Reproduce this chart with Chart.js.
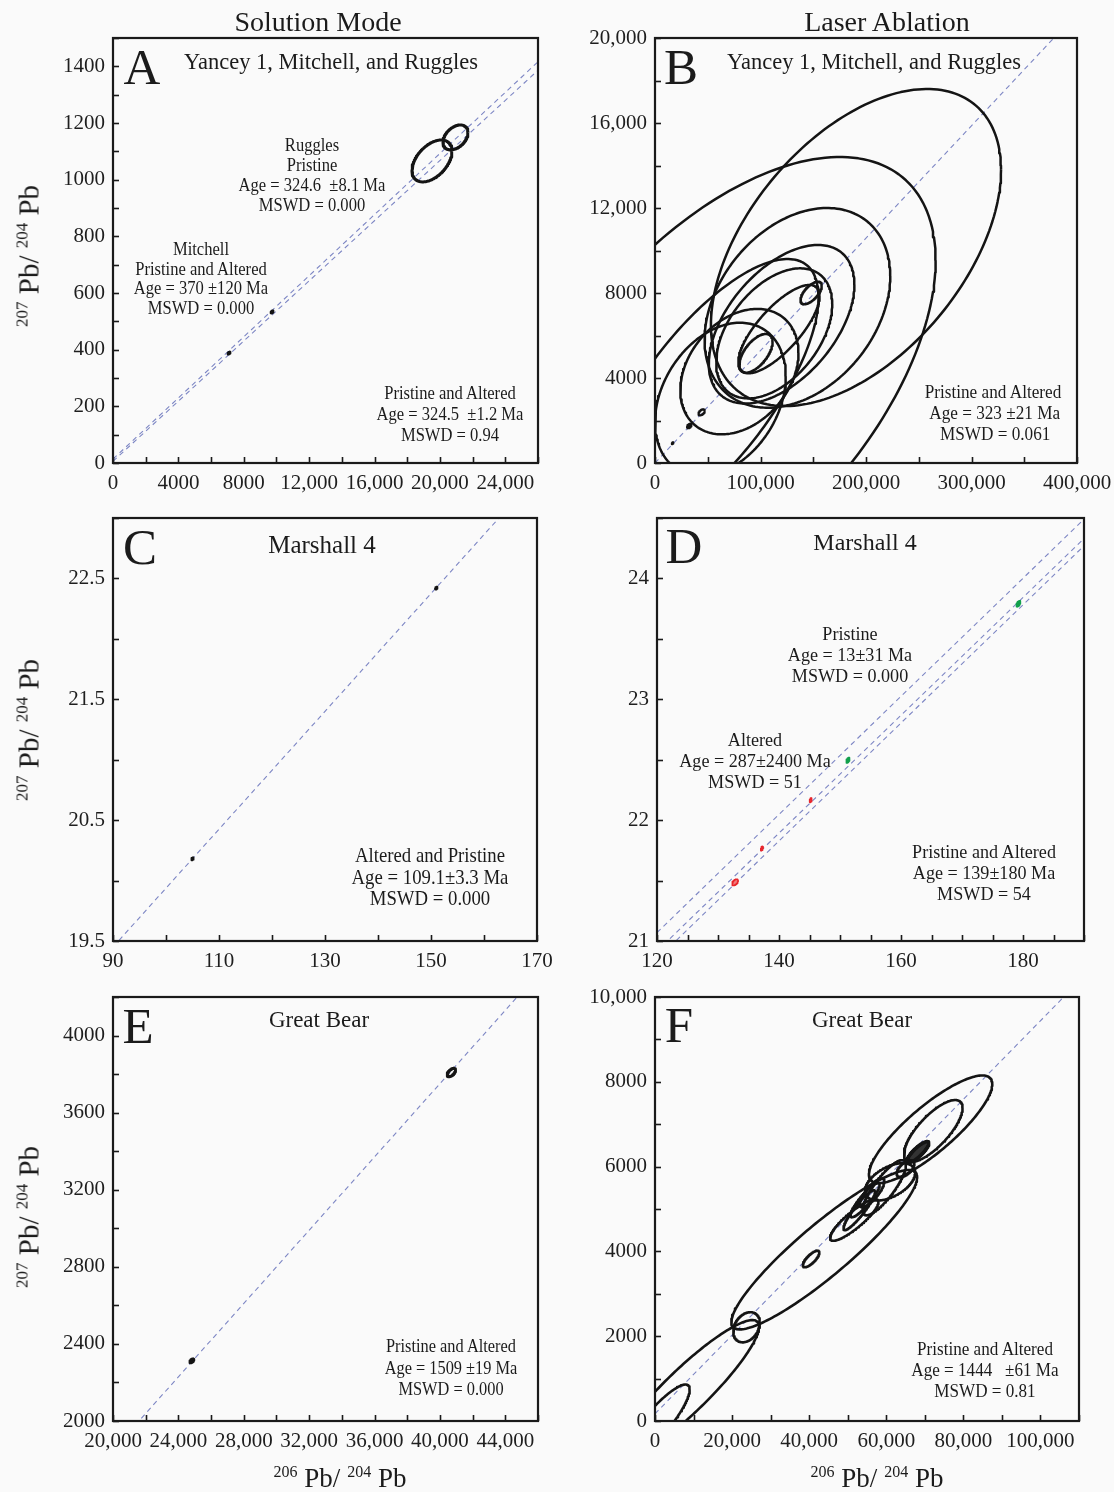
<!DOCTYPE html>
<html>
<head>
<meta charset="utf-8">
<title>Pb-Pb isochrons: solution mode vs laser ablation</title>
<script src="https://cdn.jsdelivr.net/npm/chart.js@4.4.1/dist/chart.umd.min.js"></script>
<style>
  html, body { margin: 0; padding: 0; background: #fafafa; }
  body { width: 1114px; height: 1492px; position: relative; overflow: hidden;
         font-family: "Liberation Serif", "DejaVu Serif", serif; color: #1b1b1b; }
  canvas.cv { position: absolute; }
  .t { position: absolute; white-space: pre; line-height: 1; transform: translate(-50%, -50%); z-index: 5; }
  .col { font-size: 28px; }
  .let { font-size: 51px; }
  .ttl { font-size: 22.5px; }
  .ann { text-align: center; transform: translate(-50%, -50%) scaleX(0.92); }
  .ytl { transform: translate(-50%, -50%) rotate(-90deg); font-size: 29px; }
  .xtl { font-size: 27px; }
  .sup { font-size: 16px; position: relative; top: -10px; }
  .ytl .sup { font-size: 17px; top: -11px; }
</style>
</head>
<body>

<!-- column headings -->
<div class="t col" style="left:318px;top:22px">Solution Mode</div>
<div class="t col" style="left:887px;top:22px">Laser Ablation</div>

<!-- panel A -->
<div class="t let" style="left:142px;top:67px">A</div>
<div class="t ttl" style="left:331px;top:62px">Yancey 1, Mitchell, and Ruggles</div>
<div class="t ann" style="left:312px;top:175px;font-size:18px;line-height:20px">Ruggles
Pristine
Age = 324.6  ±8.1 Ma
MSWD = 0.000</div>
<div class="t ann" style="left:201px;top:279px;font-size:18px;line-height:19.5px">Mitchell
Pristine and Altered
Age = 370 ±120 Ma
MSWD = 0.000</div>
<div class="t ann" style="left:450px;top:414px;font-size:18px;line-height:21px">Pristine and Altered
Age = 324.5  ±1.2 Ma
MSWD = 0.94</div>

<!-- panel B -->
<div class="t let" style="left:681px;top:67px">B</div>
<div class="t ttl" style="left:874px;top:62px">Yancey 1, Mitchell, and Ruggles</div>
<div class="t ann" style="left:993px;top:412px;font-size:18.7px;line-height:21px">Pristine and Altered
 Age = 323 ±21 Ma
 MSWD = 0.061</div>

<!-- panel C -->
<div class="t let" style="left:140px;top:547px">C</div>
<div class="t ttl" style="left:322px;top:544px;font-size:25px">Marshall 4</div>
<div class="t ann" style="left:430px;top:877px;font-size:20.4px;line-height:21.5px">Altered and Pristine
Age = 109.1±3.3 Ma
MSWD = 0.000</div>

<!-- panel D -->
<div class="t let" style="left:684px;top:546px">D</div>
<div class="t ttl" style="left:865px;top:542px;font-size:24px">Marshall 4</div>
<div class="t ann" style="left:850px;top:654px;font-size:19.7px;line-height:21px">Pristine
Age = 13±31 Ma
MSWD = 0.000</div>
<div class="t ann" style="left:755px;top:760px;font-size:19.7px;line-height:21px">Altered
Age = 287±2400 Ma
MSWD = 51</div>
<div class="t ann" style="left:984px;top:872px;font-size:19.7px;line-height:21px">Pristine and Altered
Age = 139±180 Ma
MSWD = 54</div>

<!-- panel E -->
<div class="t let" style="left:138px;top:1026px">E</div>
<div class="t ttl" style="left:319px;top:1019px;font-size:23px">Great Bear</div>
<div class="t ann" style="left:451px;top:1368px;font-size:17.8px;line-height:21.5px">Pristine and Altered
Age = 1509 ±19 Ma
MSWD = 0.000</div>

<!-- panel F -->
<div class="t let" style="left:679px;top:1025px">F</div>
<div class="t ttl" style="left:862px;top:1019px;font-size:23px">Great Bear</div>
<div class="t ann" style="left:985px;top:1369px;font-size:18.6px;line-height:21px">Pristine and Altered
Age = 1444   ±61 Ma
MSWD = 0.81</div>

<!-- axis titles -->
<div class="t ytl" style="left:29px;top:256px"><span class="sup">207</span> Pb/ <span class="sup">204</span> Pb</div>
<div class="t ytl" style="left:29px;top:730px"><span class="sup">207</span> Pb/ <span class="sup">204</span> Pb</div>
<div class="t ytl" style="left:29px;top:1217px"><span class="sup">207</span> Pb/ <span class="sup">204</span> Pb</div>
<div class="t xtl" style="left:340px;top:1478px"><span class="sup">206</span> Pb/ <span class="sup">204</span> Pb</div>
<div class="t xtl" style="left:877px;top:1478px"><span class="sup">206</span> Pb/ <span class="sup">204</span> Pb</div>

<script>
// ---------------------------------------------------------------
// Axis ranges, labelled (major) ticks and tick spacing per panel
// ---------------------------------------------------------------
const aXRange = [0, 26000],   aXMajor = [0, 4000, 8000, 12000, 16000, 20000, 24000], aXStep = 2000;
const aYRange = [0, 1500],    aYMajor = [0, 200, 400, 600, 800, 1000, 1200, 1400],  aYStep = 100;
const bXRange = [0, 400000],  bXMajor = [0, 100000, 200000, 300000, 400000],        bXStep = 50000;
const bYRange = [0, 20000],   bYMajor = [0, 4000, 8000, 12000, 16000, 20000],       bYStep = 2000;
const cXRange = [90, 170],    cXMajor = [90, 110, 130, 150, 170],                   cXStep = 10;
const cYRange = [19.5, 23],   cYMajor = [19.5, 20.5, 21.5, 22.5],                   cYStep = 0.5;
const dXRange = [120, 190],   dXMajor = [120, 140, 160, 180],                       dXStep = 5;
const dYRange = [21, 24.5],   dYMajor = [21, 22, 23, 24],                           dYStep = 0.5;
const eXRange = [20000, 46000], eXMajor = [20000, 24000, 28000, 32000, 36000, 40000, 44000], eXStep = 2000;
const eYRange = [2000, 4200], eYMajor = [2000, 2400, 2800, 3200, 3600, 4000],       eYStep = 200;
const fXRange = [0, 110000],  fXMajor = [0, 20000, 40000, 60000, 80000, 100000],    fXStep = 10000;
const fYRange = [0, 10000],   fYMajor = [0, 2000, 4000, 6000, 8000, 10000],         fYStep = 1000;

// ---------------------------------------------------------------
// Error ellipses: [206/204 centre, 207/204 centre, sigma x, sigma y, error correlation]
// Isochrons: [x1, y1, x2, y2]
// ---------------------------------------------------------------
// A - solution mode, Yancey 1 / Mitchell / Ruggles
const aRuggles   = [[19515, 1066, 1224, 74, 0.47], [20953, 1149, 765, 44, 0.40]];
const aMitchell  = [[9730, 533, 90, 5, 0.5], [7100, 388, 90, 5, 0.5]];
const aIsochrons = [[0, 14, 26000, 1416], [0, 6, 26000, 1386]];

// B - laser ablation, Yancey 1 / Mitchell / Ruggles
const bEllipses = [
  [190500, 10140, 137500, 7460, 0.49],
  [64000, 3600, 202000, 10800, 0.55],
  [135000, 7300, 88000, 4700, 0.32],
  [120000, 6530, 69000, 3730, 0.50],
  [113000, 6100, 55000, 3060, 0.45],
  [117500, 6300, 38500, 2080, 0.75],
  [95700, 5160, 15800, 910, 0.60],
  [148000, 8000, 10100, 530, 0.65],
  [80000, 4300, 56000, 2950, 0.30],
  [62000, 3000, 62000, 3600, 0.30],
  [50000, 3200, 105000, 6400, 0.72]
];
const bSmallFilled = [[16700, 930, 800, 45, 0.5], [32500, 1740, 2200, 110, 0.5]];
const bSmallOpen   = [[44200, 2380, 3000, 140, 0.5]];
const bIsochrons   = [[0, 0, 400000, 21160]];

// C - solution mode, Marshall 4
const cPoints    = [[105, 20.18, 0.25, 0.012, 0.5], [151, 22.42, 0.25, 0.012, 0.5]];
const cIsochrons = [[90, 19.45, 170, 23.35]];

// D - laser ablation, Marshall 4 (green = pristine, red = altered)
const dPristine  = [[179.25, 23.79, 0.35, 0.025, 0.6], [151.3, 22.495, 0.3, 0.022, 0.6]];
const dAltered   = [[145.2, 22.165, 0.2, 0.018, 0.5], [137.2, 21.765, 0.2, 0.018, 0.5], [132.8, 21.485, 0.5, 0.026, 0.5]];
const dIsochrons = [[120, 21.07, 190, 24.49], [120, 20.917, 190, 24.33], [120, 20.85, 190, 24.27]];

// E - solution mode, Great Bear
const ePointsFilled = [[24824, 2312, 150, 12, 0.5]];
const ePointsOpen   = [[40700, 3808, 260, 22, 0.6]];
const eIsochrons    = [[21000, 1944, 46000, 4321]];

// F - laser ablation, Great Bear
const fEllipses = [
  [8000, 700, 19000, 1680, 0.91],
  [0, -100, 9000, 960, 0.88],
  [23750, 2210, 3450, 355, 0.30],
  [43900, 4040, 24100, 1880, 0.91],
  [71500, 6880, 16000, 1270, 0.84],
  [72200, 6840, 7600, 730, 0.75],
  [65000, 5950, 2300, 200, 0.60],
  [59500, 5500, 5600, 650, 0.83],
  [61000, 5640, 6500, 440, 0.50],
  [51700, 4740, 6280, 490, 0.87],
  [54500, 5210, 3790, 405, 0.90],
  [53000, 4970, 4100, 470, 0.92],
  [56300, 5380, 3200, 340, 0.80],
  [40500, 3820, 2140, 195, 0.77]
];
const fDark      = [[68200, 6340, 2850, 250, 0.85]];
const fIsochrons = [[0, 170, 110000, 10367]];

// ---------------------------------------------------------------
const INK = '#141414';
const ISO = '#7d86c4';
const PL = 110, PR = 60, PT = 22, PB = 52;   // room around each plot box for tick labels

// outline of an error ellipse, in data units
function outline(e, n) {
  const [cx, cy, sx, sy, r] = e;
  const k = Math.sqrt(1 - r * r);
  const pts = [];
  const steps = n || 200;
  for (let i = 0; i <= steps; i++) {
    const t = 2 * Math.PI * i / steps;
    const c = Math.cos(t), s = Math.sin(t);
    pts.push({ x: cx + sx * c, y: cy + sy * (r * c + k * s) });
  }
  return pts;
}

function ellipseSet(list, opts) {
  return list.map(e => Object.assign({
    data: outline(e), showLine: true, pointRadius: 0, pointHoverRadius: 0,
    borderColor: INK, borderWidth: 2.6, borderJoinStyle: 'round',
    fill: false, tension: 0, clip: 0
  }, opts || {}));
}

function isochronSet(list) {
  return list.map(s => ({
    data: [{ x: s[0], y: s[1] }, { x: s[2], y: s[3] }],
    showLine: true, pointRadius: 0, pointHoverRadius: 0,
    borderColor: ISO, borderWidth: 1.1, borderDash: [5, 4],
    fill: false, clip: 0
  }));
}

function tickList(range, step) {
  const out = [];
  const n = Math.round((range[1] - range[0]) / step);
  for (let i = 0; i <= n; i++) out.push(Math.round((range[0] + i * step) * 1e6) / 1e6);
  return out;
}

function fmt(v) {
  const a = Math.round(v * 1000) / 1000;
  return Math.abs(a) >= 10000 ? a.toLocaleString('en-US') : String(a);
}

function axis(range, major, step, isX) {
  return {
    type: 'linear', min: range[0], max: range[1], position: isX ? 'bottom' : 'left',
    grid: { display: false, drawTicks: false },
    border: { display: false },
    afterBuildTicks(s) { s.ticks = tickList(range, step).map(v => ({ value: v })); },
    afterFit(s) { if (isX) s.height = PB; else s.width = PL; },
    ticks: {
      autoSkip: false, maxRotation: 0, minRotation: 0, padding: 8,
      color: '#1e1e1e', font: { family: '"Liberation Serif", serif', size: 21 },
      callback(v) { return major.some(m => Math.abs(m - v) < 1e-6) ? fmt(v) : ''; }
    }
  };
}

// plot frame and inward tick marks
const framePlugin = {
  id: 'frame',
  afterDraw(chart) {
    const { ctx, chartArea: a, scales } = chart;
    ctx.save();
    ctx.strokeStyle = '#1a1a1a';
    ctx.lineWidth = 1.6;
    scales.x.ticks.forEach(t => {
      const p = Math.round(scales.x.getPixelForValue(t.value)) + 0.5;
      ctx.beginPath(); ctx.moveTo(p, a.bottom); ctx.lineTo(p, a.bottom - 6); ctx.stroke();
    });
    scales.y.ticks.forEach(t => {
      const p = Math.round(scales.y.getPixelForValue(t.value)) + 0.5;
      ctx.beginPath(); ctx.moveTo(a.left, p); ctx.lineTo(a.left + 6, p); ctx.stroke();
    });
    ctx.lineWidth = 2.2;
    ctx.strokeRect(a.left, a.top, a.right - a.left, a.bottom - a.top);
    ctx.restore();
  }
};

// box = [left, right, top, bottom] of the plot frame on the page
function panel(box, xr, xMajor, xStep, yr, yMajor, yStep, datasets) {
  const c = document.createElement('canvas');
  const w = box[1] - box[0] + PL + PR;
  const h = box[3] - box[2] + PT + PB;
  c.width = w; c.height = h;
  c.className = 'cv';
  c.style.left = (box[0] - PL) + 'px';
  c.style.top = (box[2] - PT) + 'px';
  c.style.width = w + 'px';
  c.style.height = h + 'px';
  document.body.appendChild(c);
  new Chart(c.getContext('2d'), {
    type: 'scatter',
    data: { datasets },
    options: {
      responsive: false, animation: false, devicePixelRatio: 1,
      layout: { padding: { left: 0, right: PR, top: PT, bottom: 0 } },
      plugins: { legend: { display: false }, tooltip: { enabled: false } },
      events: [],
      scales: { x: axis(xr, xMajor, xStep, true), y: axis(yr, yMajor, yStep, false) }
    },
    plugins: [framePlugin]
  });
}

// A
panel([113, 538, 38, 463], aXRange, aXMajor, aXStep, aYRange, aYMajor, aYStep, [
  ...ellipseSet(aRuggles, { borderWidth: 3 }),
  ...ellipseSet(aMitchell, { borderWidth: 2, fill: 'shape', backgroundColor: INK }),
  ...isochronSet(aIsochrons)
]);

// B
panel([655, 1077, 38, 463], bXRange, bXMajor, bXStep, bYRange, bYMajor, bYStep, [
  ...ellipseSet(bEllipses, { borderWidth: 2.5 }),
  ...ellipseSet(bSmallFilled, { borderWidth: 2, fill: 'shape', backgroundColor: INK }),
  ...ellipseSet(bSmallOpen, { borderWidth: 2.2 }),
  ...isochronSet(bIsochrons)
]);

// C
panel([113, 537, 518, 941], cXRange, cXMajor, cXStep, cYRange, cYMajor, cYStep, [
  ...ellipseSet(cPoints, { borderWidth: 1.8, fill: 'shape', backgroundColor: INK }),
  ...isochronSet(cIsochrons)
]);

// D
panel([657, 1084, 518, 941], dXRange, dXMajor, dXStep, dYRange, dYMajor, dYStep, [
  ...ellipseSet(dPristine, { borderWidth: 1.6, borderColor: '#12a04c', fill: 'shape', backgroundColor: '#12a04c' }),
  ...ellipseSet(dAltered, { borderWidth: 1.6, borderColor: '#e8262c', fill: 'shape', backgroundColor: '#f07a7c' }),
  ...isochronSet(dIsochrons)
]);

// E
panel([113, 538, 997, 1421], eXRange, eXMajor, eXStep, eYRange, eYMajor, eYStep, [
  ...ellipseSet(ePointsFilled, { borderWidth: 2, fill: 'shape', backgroundColor: INK }),
  ...ellipseSet(ePointsOpen, { borderWidth: 3 }),
  ...isochronSet(eIsochrons)
]);

// F
panel([655, 1079, 997, 1421], fXRange, fXMajor, fXStep, fYRange, fYMajor, fYStep, [
  ...ellipseSet(fEllipses, { borderWidth: 2.6 }),
  ...ellipseSet(fDark, { borderWidth: 3.5, fill: 'shape', backgroundColor: '#333' }),
  ...isochronSet(fIsochrons)
]);
</script>
</body>
</html>
